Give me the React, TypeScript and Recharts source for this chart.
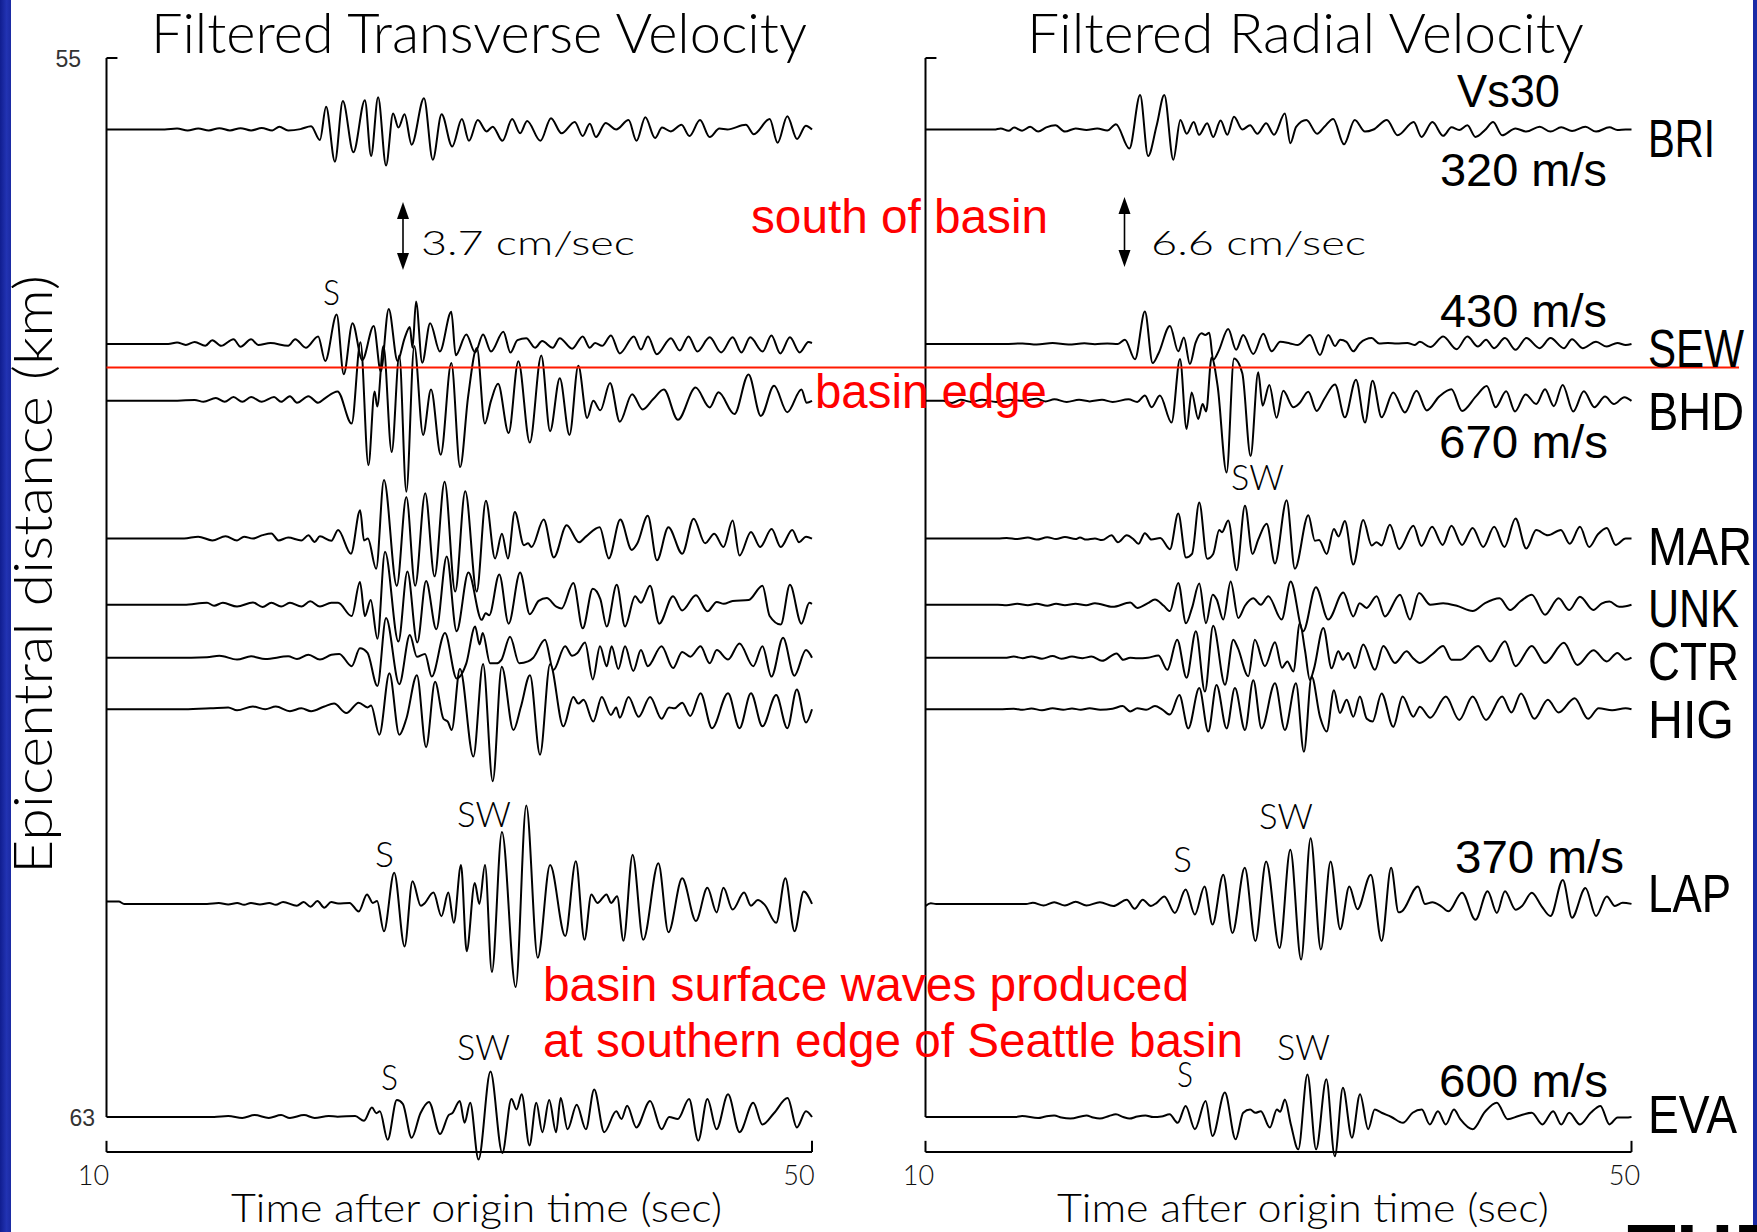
import React from 'react';
import { LineChart, Line, XAxis, YAxis, ReferenceLine } from 'recharts';

type Pt = [number, number];

// ---------- data ----------
const STATIONS = ['BRI', 'SEW', 'BHD', 'MAR', 'UNK', 'CTR', 'HIG', 'LAP', 'EVA'];
const DISTANCES = [55.54, 57.16, 57.59, 58.63, 59.13, 59.53, 59.92, 61.39, 63.0]; // km
const TIME_TICKS = [10, 50];
const DIST_TICKS = [55, 63];
const SCALE_LEFT = 3.7; // cm/sec scale bar, transverse
const SCALE_RIGHT = 6.6; // cm/sec scale bar, radial

// transverse velocity (t sec, v cm/s)
const L_BRI: Pt[] = [[10,0],[13.3,0],[14,0.05],[14.6,-0.05],[15.2,0.05],[15.8,-0.05],[16.4,0.07],[17,-0.05],[17.6,0.07],[18.2,-0.05],[18.8,0.08],[19.4,-0.05],[19.8,0.15],[20.3,-0.05],[21,0.02],[21.6,0.17],[22.1,-0.55],[22.45,1.2],[22.95,-1.7],[23.4,1.5],[24.0,-1.2],[24.65,1.55],[25.0,-1.4],[25.4,1.7],[25.85,-1.9],[26.25,0.85],[26.55,0.1],[26.9,0.8],[27.3,-0.8],[28.0,1.65],[28.5,-1.6],[29.0,0.8],[29.6,-0.9],[30.15,0.55],[30.55,-0.6],[31.05,0.5],[31.55,-0.1],[31.9,0.15],[32.45,-0.6],[33.0,0.55],[33.45,-0.2],[33.85,0.45],[34.6,-0.6],[35.2,0.6],[35.8,-0.2],[36.55,0.4],[37.0,-0.35],[37.4,0.3],[37.75,-0.4],[38.3,0.35],[38.9,0.0],[39.6,0.5],[40.05,-0.6],[40.55,0.65],[41.1,-0.45],[41.5,0.1],[42.0,-0.1],[42.6,0.25],[43.05,-0.35],[43.65,0.5],[44.2,-0.4],[44.75,0.05],[45.2,0.0],[46.25,0.25],[46.7,-0.25],[47.6,0.55],[48.05,-0.7],[48.6,0.7],[49.15,-0.5],[49.65,0.2],[50,0]];
const L_SEW: Pt[] = [[10,0],[13.5,0],[14,0.08],[14.5,-0.05],[15,0.1],[15.6,-0.1],[16,0.2],[16.5,-0.1],[17.2,0.25],[17.6,-0.15],[18.2,0.25],[18.6,-0.05],[19.3,0.05],[20.3,-0.1],[20.7,0.25],[21.3,-0.2],[22.0,0.4],[22.4,-0.9],[23.05,1.55],[23.45,-1.6],[23.95,1.1],[24.5,-0.85],[25.15,0.95],[25.55,-1.45],[26.0,1.85],[26.5,-0.9],[26.9,0.3],[27.2,0.9],[27.35,-0.2],[27.55,2.25],[27.9,-1.0],[28.35,1.1],[28.9,-0.4],[29.55,1.7],[29.8,-0.6],[30.4,0.5],[30.9,-0.45],[31.35,0.5],[31.8,-0.4],[32.5,0.65],[32.9,-0.45],[33.3,0.2],[33.8,0.3],[34.3,-0.2],[34.7,0.15],[35.3,-0.2],[35.7,0.3],[36.4,-0.25],[37.0,0.4],[37.4,-0.2],[37.7,0.05],[38.1,-0.1],[38.6,0.45],[39.1,-0.5],[39.9,0.4],[40.3,-0.3],[40.7,0.4],[41.2,-0.55],[42.0,0.3],[42.5,-0.35],[43.0,0.4],[43.5,-0.4],[44.2,0.35],[44.85,-0.45],[45.5,0.35],[46.0,-0.45],[46.5,0.35],[47.2,-0.4],[47.7,0.45],[48.2,-0.5],[48.75,0.35],[49.3,-0.45],[49.8,0.1],[50,0.05]];
const L_BHD: Pt[] = [[10,0],[13.5,0],[15.0,0.05],[15.5,-0.05],[16.2,0.15],[16.7,-0.05],[17.2,0.2],[17.7,-0.05],[18.2,0.2],[18.8,-0.05],[19.5,0.2],[19.9,-0.05],[20.4,0.25],[20.8,-0.1],[21.45,0.25],[22.0,-0.1],[22.4,0.15],[23.1,0.5],[23.9,-1.2],[24.4,3.1],[24.85,-3.4],[25.2,0.5],[25.35,-0.3],[25.7,2.9],[26.17,-2.7],[26.6,2.4],[27.0,-4.8],[27.45,2.9],[27.95,-1.8],[28.4,0.6],[28.95,-2.85],[29.55,2.0],[30.05,-3.5],[30.5,0.2],[31.0,2.8],[31.45,-1.2],[31.8,0.0],[32.2,0.9],[32.8,-1.7],[33.35,2.1],[34.0,-2.2],[34.65,2.4],[35.15,-1.6],[35.7,1.2],[36.25,-1.8],[36.75,1.85],[37.25,-0.9],[37.6,0.0],[38.0,-0.5],[38.55,0.95],[39.1,-1.1],[39.8,0.35],[40.4,-0.45],[41.0,0.1],[41.6,0.6],[42.4,-1.0],[43.4,0.7],[44.2,-0.35],[44.7,0.45],[45.6,-0.7],[46.4,1.4],[47.1,-0.8],[47.85,0.8],[48.6,-0.6],[49.4,0.6],[49.7,-0.1],[50,0]];
const L_MAR: Pt[] = [[10,0],[14.4,0],[15.2,0.1],[16.0,-0.1],[16.75,0.12],[17.4,-0.1],[17.8,0.1],[18.3,0.0],[18.85,0.18],[19.35,0.27],[19.75,-0.1],[20.3,0.05],[21.05,-0.1],[21.45,0.17],[21.8,-0.18],[22.1,0.12],[22.75,-0.12],[23.13,0.45],[23.86,-0.8],[24.38,1.5],[24.6,-0.1],[24.82,0.0],[25.29,-1.6],[25.73,3.1],[26.46,-2.5],[27.0,2.2],[27.5,-2.5],[28.07,2.4],[28.6,-2.0],[29.17,3.0],[29.77,-2.8],[30.34,2.5],[30.99,-2.8],[31.51,2.0],[32.03,-1.05],[32.42,0.25],[32.76,-1.05],[33.15,1.4],[33.67,-0.35],[33.9,-0.25],[34.1,-0.45],[34.79,1.0],[35.36,-1.0],[36.09,0.7],[36.79,-0.2],[37.18,0.1],[37.96,0.6],[38.48,-1.05],[39.13,1.0],[39.78,-0.6],[40.1,-0.25],[40.69,1.2],[41.21,-1.15],[41.86,0.6],[42.64,-0.8],[43.29,1.05],[43.94,-0.25],[44.46,0.25],[44.98,-0.45],[45.5,0.95],[45.89,-0.9],[46.54,0.35],[47.06,-0.45],[47.71,0.5],[48.23,-0.45],[48.88,0.45],[49.27,-0.2],[49.66,0.1],[50,0]];
const L_UNK: Pt[] = [[10,0],[14.4,0],[15.7,0.1],[16.1,-0.05],[16.6,0.1],[17.4,-0.1],[18.3,0.12],[18.85,-0.12],[19.35,0.1],[19.9,-0.1],[20.4,0.1],[21.05,-0.1],[21.55,0.18],[22.1,-0.1],[22.75,0.1],[23.13,0.1],[23.9,-0.6],[24.37,1.2],[24.65,-0.6],[24.98,0.25],[25.36,-1.8],[25.79,2.8],[26.55,-1.95],[27.06,1.75],[27.62,-2.0],[28.12,1.25],[28.7,-1.3],[29.29,2.55],[29.85,-1.4],[30.52,1.7],[31.27,-0.8],[31.5,-0.45],[31.7,-0.55],[32.27,1.6],[32.8,-1.0],[33.45,1.7],[34.0,-0.5],[34.5,0.2],[34.96,0.35],[35.5,-0.1],[35.8,-0.2],[36.47,1.15],[37.0,-1.25],[37.57,0.85],[38.0,0.3],[38.36,-1.15],[38.93,1.05],[39.4,-1.15],[39.97,0.45],[40.3,0.1],[40.82,1.0],[41.34,-1.0],[42.12,0.45],[42.64,-0.3],[43.42,0.5],[44.07,-0.35],[44.6,0.15],[45.0,0.05],[45.5,0.2],[46.41,0.25],[47.19,1.0],[47.6,-0.6],[48.23,-1.05],[48.75,1.05],[49.4,-1.0],[49.85,0.1],[50,0.05]];
const L_CTR: Pt[] = [[10,0],[14.8,0],[15.7,0.02],[16.4,0.1],[17.4,-0.1],[18.2,0.07],[19.0,-0.07],[20.3,0.07],[20.8,-0.07],[21.45,0.15],[22.1,-0.1],[22.75,0.15],[23.2,0.2],[23.9,-0.45],[24.37,0.5],[24.8,0.25],[25.36,-1.5],[25.85,2.1],[26.6,-1.4],[27.2,1.2],[27.6,0.05],[28.06,0.2],[28.44,-1.0],[29.19,1.3],[29.85,-1.1],[30.4,-0.3],[30.9,1.65],[31.15,0.7],[31.33,1.3],[31.75,-0.3],[32.1,-0.3],[32.4,-0.1],[32.88,1.1],[33.4,-0.3],[33.9,-0.2],[34.2,0.0],[34.86,0.95],[35.34,-0.65],[36.0,0.6],[36.4,0.1],[36.7,0.25],[37.13,0.8],[37.57,-1.15],[37.98,0.6],[38.36,-0.45],[38.64,0.6],[39.02,-0.6],[39.4,0.6],[39.87,-0.7],[40.3,0.4],[40.69,-0.45],[41.47,0.6],[42.12,-0.55],[42.64,0.3],[43.1,0.05],[43.68,0.6],[44.2,-0.3],[44.6,0.4],[45.24,-0.1],[45.89,0.75],[46.67,-0.45],[47.19,0.6],[47.7,-1.0],[48.36,1.05],[49.0,-0.95],[49.66,0.4],[50,0]];
const L_HIG: Pt[] = [[10,0],[14.4,0],[15.9,0.05],[16.9,0.1],[17.4,-0.05],[18.3,0.15],[19.0,0.0],[19.6,0.15],[20.4,-0.1],[21.05,0.05],[21.6,-0.1],[22.35,0.15],[22.9,0.3],[23.6,-0.2],[24.3,0.35],[24.8,0.1],[25.0,0.2],[25.47,-1.35],[26.04,1.9],[26.6,-1.35],[27.0,-0.5],[27.6,1.8],[28.12,-2.0],[28.63,1.45],[29.1,-0.5],[29.35,-0.65],[29.57,-1.1],[30.04,2.15],[30.8,-2.5],[31.35,2.4],[31.9,-3.8],[32.41,2.25],[33.07,-1.1],[33.5,0.15],[34.01,1.8],[34.58,-2.4],[35.15,2.4],[35.9,-0.9],[36.47,0.65],[36.75,0.3],[37.05,0.5],[37.6,-0.65],[38.08,0.65],[38.6,-0.3],[38.9,0.1],[39.1,-0.45],[39.6,0.65],[40.17,-0.4],[40.82,0.65],[41.47,-0.5],[41.9,0.1],[42.2,0.05],[42.64,0.35],[43.1,-0.35],[43.68,0.85],[44.33,-1.0],[45.24,0.85],[45.89,-1.0],[46.54,0.85],[47.19,-0.9],[47.97,0.75],[48.6,-1.0],[49.14,1.05],[49.66,-0.7],[50,0]];
const L_LAP: Pt[] = [[10,0.12],[10.7,0.12],[11.0,0],[15.7,0],[16.37,0.05],[16.9,-0.03],[17.41,0.05],[17.8,-0.05],[18.19,0.05],[18.7,-0.03],[19.23,0.05],[19.6,-0.05],[20.01,0.1],[20.79,-0.1],[21.18,0.1],[21.57,-0.15],[21.96,0.15],[22.35,-0.2],[22.74,0.1],[23.13,0.02],[23.78,0.05],[24.3,-0.4],[24.77,0.5],[25.1,0.05],[25.34,0.15],[25.73,-1.45],[26.31,1.65],[26.9,-2.25],[27.35,1.2],[27.82,-0.1],[28.0,0.0],[28.54,0.6],[28.99,-0.65],[29.38,0.6],[29.69,-1.0],[30.1,2.05],[30.42,-2.5],[30.88,1.1],[31.14,0.0],[31.46,2.05],[31.85,-3.6],[32.42,3.8],[33.2,-4.4],[33.8,5.2],[34.45,-2.85],[35.15,2.05],[36.01,-1.7],[36.61,2.25],[37.1,-1.9],[37.49,0.5],[37.83,0.05],[38.35,0.5],[38.61,0.05],[38.95,0.4],[39.31,-1.95],[39.83,2.6],[40.43,-1.9],[41.29,2.15],[41.86,-1.5],[42.64,1.35],[43.42,-0.9],[44.07,0.85],[44.59,-0.45],[44.98,0.85],[45.5,-0.3],[46.15,0.6],[46.54,-0.1],[46.93,0.2],[47.32,-0.05],[47.97,-1.0],[48.49,1.35],[49.01,-1.45],[49.53,0.65],[50,0]];
const L_EVA: Pt[] = [[10,0],[16.1,0],[16.9,0.05],[17.7,-0.05],[18.4,0.1],[19.2,-0.05],[19.9,0.1],[20.4,-0.05],[21.2,0.1],[21.8,-0.05],[22.6,0.05],[23.1,0.02],[24.1,0.05],[24.6,-0.2],[25.05,0.5],[25.3,0.2],[25.5,0.3],[25.94,-1.2],[26.46,0.9],[26.8,0.7],[27.3,-1.1],[27.8,0.2],[28.28,0.8],[28.91,-0.9],[29.4,0.1],[29.6,0.2],[30.03,0.85],[30.3,-0.3],[30.62,0.75],[31.09,-2.25],[31.77,2.4],[32.44,-1.9],[32.96,0.95],[33.25,0.4],[33.54,1.2],[33.98,-1.5],[34.37,0.75],[34.71,-0.8],[35.1,0.9],[35.49,-0.8],[35.75,1.0],[36.14,-0.65],[36.66,0.65],[37.18,-0.65],[37.65,1.45],[38.22,-0.8],[38.9,0.3],[39.2,-0.1],[39.52,0.6],[40.04,-0.55],[40.82,0.85],[41.47,-0.65],[41.9,0.0],[42.4,-0.1],[43.03,0.95],[43.55,-1.25],[44.07,0.95],[44.59,-0.65],[45.24,1.2],[45.89,-0.8],[46.67,0.75],[47.19,-0.4],[47.84,0.2],[48.62,1.0],[49.14,-0.55],[49.66,0.3],[50,0]];

// radial velocity (t sec, v cm/s)
const R_BRI: Pt[] = [[10,0],[13.9,0],[14.26,0.1],[14.71,-0.12],[15.02,0.18],[15.47,-0.12],[15.93,0.25],[16.38,-0.2],[16.84,0.2],[17.36,0.4],[17.9,-0.2],[18.51,0.1],[19.12,-0.05],[19.73,0.1],[20.3,-0.1],[20.79,0.5],[21.55,-1.8],[22.16,3.25],[22.61,-2.5],[23.1,0.4],[23.53,3.25],[24.04,-2.85],[24.44,0.9],[24.8,-0.4],[25.2,0.7],[25.5,-0.5],[25.96,0.6],[26.3,-0.7],[26.72,0.85],[27.1,-0.5],[27.48,1.2],[27.95,0.0],[28.39,0.4],[28.8,-0.4],[29.3,0.6],[29.75,-0.5],[30.36,1.5],[30.67,-1.3],[31.0,0.25],[31.58,0.9],[32.19,-0.4],[32.6,0.25],[33.1,1.0],[33.71,-1.4],[34.32,0.9],[34.9,-0.2],[35.38,0.0],[36.14,0.9],[36.75,-0.55],[37.66,0.7],[38.1,-0.7],[38.72,0.7],[39.33,-0.6],[39.8,0.2],[40.24,-0.05],[40.7,0.4],[41.16,-0.7],[41.7,-0.05],[42.16,0.7],[42.67,-0.55],[43.43,0.1],[44.04,-0.2],[44.8,0.25],[45.41,-0.2],[46.02,0.2],[46.63,-0.15],[47.39,0.25],[47.99,-0.2],[48.75,0.2],[49.2,-0.05],[49.67,0.0],[50,0]];
const R_SEW: Pt[] = [[10,0],[14.5,0],[15.5,0.05],[16.3,-0.05],[17.2,0.08],[18.1,-0.05],[19.0,0.06],[19.6,-0.03],[20.3,0.05],[20.9,0.0],[21.3,0.4],[21.87,-1.45],[22.43,3.05],[22.87,-1.8],[23.2,-0.9],[23.85,1.7],[24.32,-0.7],[24.64,0.6],[24.98,-1.9],[25.3,0.1],[25.64,1.0],[25.85,0.85],[26.08,1.05],[26.3,-1.5],[26.6,-0.7],[27.15,1.4],[27.6,-0.55],[28.0,0.85],[28.57,-0.95],[29.14,0.95],[29.61,-0.7],[30.1,0.2],[30.65,0.05],[31.1,-0.1],[31.78,0.85],[32.35,-1.05],[32.82,0.85],[33.2,-0.2],[33.5,0.4],[33.85,0.2],[34.24,-0.7],[34.6,0.05],[35.28,0.55],[35.7,0.05],[36.2,0.1],[36.7,0.05],[37.3,0.1],[37.7,-0.1],[38.01,0.2],[38.6,-0.3],[39.33,0.7],[40.09,-0.5],[40.7,0.7],[41.3,-0.25],[41.76,0.4],[42.22,-0.4],[42.83,0.55],[43.43,-0.55],[44.04,0.55],[44.8,-0.4],[45.41,0.55],[46.17,-0.4],[46.63,0.45],[47.23,-0.4],[47.99,0.2],[48.6,-0.25],[49.2,0.1],[49.67,-0.1],[50,0]];
const R_BHD: Pt[] = [[10,0],[11,0],[11.5,-0.2],[12.0,0.1],[12.6,-0.1],[13.2,0.1],[14.0,-0.1],[14.8,0.1],[15.5,0.0],[16.3,0.2],[16.8,-0.05],[17.3,0.15],[18.0,-0.1],[18.7,0.1],[19.3,-0.05],[20.0,0.1],[20.6,-0.1],[21.5,0.15],[22.0,-0.1],[22.43,0.5],[22.81,-0.6],[23.28,0.5],[23.94,-2.05],[24.42,3.95],[24.79,-2.65],[25.08,0.8],[25.45,-1.7],[25.7,-0.3],[25.9,-1.0],[26.21,4.1],[26.55,1.4],[27.06,-6.75],[27.48,4.0],[27.95,2.6],[28.42,-5.2],[28.85,2.7],[29.1,-0.45],[29.48,1.5],[29.89,-1.6],[30.27,0.95],[30.84,-0.6],[31.2,-0.2],[31.69,0.85],[32.16,-0.95],[32.6,0.2],[33.2,1.55],[33.76,-1.55],[34.39,2.0],[34.9,-2.05],[35.33,1.9],[35.84,-1.55],[36.5,0.8],[37.16,-1.1],[37.82,0.95],[38.4,-0.9],[39.1,0.4],[39.8,1.1],[40.4,-0.95],[41.2,0.45],[41.8,1.4],[42.3,-0.6],[42.9,0.9],[43.4,-1.0],[44.0,0.6],[44.6,-0.3],[45.1,1.1],[45.6,-0.5],[46.1,1.5],[46.7,-1.0],[47.3,0.9],[47.9,-0.6],[48.5,0.4],[49.0,-0.3],[49.6,0.35],[50,0]];
const R_MAR: Pt[] = [[10,0],[14.1,0],[14.6,0.05],[15.2,-0.05],[15.8,0.1],[16.3,-0.1],[16.9,0.12],[17.4,-0.05],[17.9,0.15],[18.5,-0.05],[18.75,0.1],[19.1,-0.1],[19.6,0.0],[20.0,-0.15],[20.54,0.3],[20.9,-0.35],[21.4,0.3],[21.8,-0.1],[22.06,-0.5],[22.43,0.5],[22.8,-0.1],[23.3,0.05],[23.85,-1.0],[24.32,2.35],[24.76,-1.8],[25.1,-1.45],[25.51,3.4],[25.96,-1.9],[26.3,-1.45],[26.64,0.8],[26.8,0.6],[27.15,1.7],[27.63,-3.0],[28.1,3.1],[28.53,-1.45],[28.85,-0.1],[29.33,1.4],[29.8,-2.35],[30.46,3.6],[30.93,-2.85],[31.69,2.2],[32.06,-0.2],[32.3,-0.15],[32.73,-1.45],[33.14,0.9],[33.4,0.2],[33.76,1.65],[34.24,-2.45],[34.8,1.75],[35.28,-0.65],[35.55,-0.35],[35.84,-0.65],[36.31,1.3],[36.84,-1.0],[37.64,1.2],[38.1,-0.7],[38.7,1.1],[39.3,-0.6],[39.8,1.2],[40.4,-0.6],[41.0,1.0],[41.6,-0.8],[42.22,1.1],[42.8,-0.8],[43.43,1.9],[44.04,-0.95],[44.6,0.8],[45.26,0.3],[46.0,0.8],[46.5,-0.5],[47.08,1.1],[47.6,-0.8],[48.1,0.4],[48.6,1.0],[49.1,-0.6],[49.67,0.0],[50,0]];
const R_UNK: Pt[] = [[10,0],[14.1,0],[14.6,-0.05],[15.2,0.1],[15.8,-0.05],[16.3,0.1],[16.9,-0.1],[17.4,0.1],[17.9,-0.05],[18.5,0.1],[19.1,-0.05],[19.6,0.15],[20.6,-0.2],[21.6,0.2],[22.0,-0.3],[22.6,0.15],[23.0,0.5],[23.5,-0.1],[23.85,-0.6],[24.32,2.05],[24.76,-1.75],[25.1,-0.3],[25.51,2.0],[25.89,-1.75],[26.27,0.95],[26.5,0.5],[26.87,-1.4],[27.29,2.2],[27.72,-1.25],[28.1,-0.1],[28.57,0.6],[29.0,0.0],[29.42,0.8],[30.18,-1.4],[30.69,2.2],[31.4,-2.5],[32.12,1.65],[32.82,-1.4],[33.67,1.15],[34.24,-1.1],[34.6,0.15],[34.99,-0.3],[35.56,0.8],[36.03,-1.1],[36.88,0.95],[37.45,-1.4],[37.96,1.1],[38.6,0.0],[39.33,0.15],[40.1,-0.1],[41.0,-0.6],[41.7,0.15],[42.52,0.6],[43.13,-0.5],[43.7,0.3],[44.35,0.95],[45.1,-0.95],[45.87,0.6],[46.47,-0.5],[47.08,0.75],[47.84,-0.5],[48.3,0.1],[48.75,0.3],[49.3,-0.2],[49.67,-0.15],[50,0]];
const R_CTR: Pt[] = [[10,0],[14.5,0],[15.0,0.1],[15.5,-0.05],[16.0,0.12],[16.6,-0.1],[17.2,0.15],[17.7,-0.1],[18.3,0.1],[18.9,-0.05],[19.4,0.1],[20.0,-0.3],[20.83,0.4],[21.2,-0.2],[21.6,0.0],[22.0,-0.05],[22.6,0.0],[23.2,0.2],[23.7,-1.15],[24.26,1.7],[24.79,-1.9],[25.32,2.5],[25.83,-3.2],[26.3,3.0],[26.97,-2.55],[27.44,1.7],[27.7,0.9],[28.29,-1.75],[28.66,1.7],[29.23,-0.8],[29.8,1.45],[30.2,-0.95],[30.5,-0.35],[30.84,-1.3],[31.21,3.25],[31.5,0.7],[31.78,-2.1],[32.0,-1.1],[32.54,2.8],[33.01,-1.0],[33.39,0.6],[33.65,-0.2],[33.95,0.45],[34.33,-1.0],[34.8,1.25],[35.46,-1.15],[35.94,1.1],[36.6,-0.5],[37.26,0.6],[37.6,0.0],[38.01,-0.5],[38.7,0.3],[39.33,1.1],[39.8,-0.2],[40.3,-0.2],[41.31,1.1],[42.0,-0.35],[42.83,1.55],[43.43,-0.8],[44.35,1.1],[45.1,-0.5],[46.17,1.4],[46.93,-0.7],[47.84,0.7],[48.6,-0.35],[49.2,0.45],[49.67,-0.2],[50,0]];
const R_HIG: Pt[] = [[10,0],[14.2,0],[15.0,0.05],[15.5,-0.05],[16.0,0.08],[16.6,-0.1],[17.2,0.1],[17.8,-0.05],[18.3,0.08],[18.8,-0.05],[19.3,0.1],[19.9,-0.05],[20.6,0.05],[21.17,0.3],[21.6,-0.2],[22.0,0.1],[22.5,-0.05],[23.0,0.3],[23.4,0.0],[23.85,-0.5],[24.38,1.35],[24.89,-1.8],[25.51,2.0],[26.02,-2.1],[26.49,2.3],[27.06,-1.8],[27.53,2.0],[28.1,-1.95],[28.57,2.75],[29.04,-1.8],[29.8,2.45],[30.36,-1.95],[30.99,2.45],[31.44,-4.0],[31.88,3.1],[32.35,-0.7],[32.73,-2.1],[33.14,1.8],[33.48,-0.35],[33.86,0.9],[34.24,-0.7],[34.61,1.2],[35.0,-0.9],[35.33,-1.15],[35.84,1.5],[36.5,-1.65],[37.03,1.2],[37.64,-0.7],[38.01,0.25],[38.6,-0.8],[39.48,1.2],[40.24,-1.0],[41.0,1.2],[41.76,-1.0],[42.67,1.2],[43.2,-0.3],[43.74,1.5],[44.5,-0.9],[45.26,0.9],[45.87,-0.3],[46.78,1.05],[47.54,-0.9],[48.14,0.1],[48.9,-0.1],[49.67,0.1],[50,0]];
const R_LAP: Pt[] = [[10,-0.2],[10.3,0.05],[10.6,0],[15.7,0],[16.08,0.1],[16.69,-0.15],[17.29,0.15],[17.9,-0.15],[18.51,0.2],[19.12,-0.15],[19.88,0.15],[20.64,-0.2],[21.4,0.4],[21.85,-0.45],[22.31,0.4],[22.77,-0.2],[23.1,0.1],[23.53,0.7],[24.13,-0.85],[24.74,1.35],[25.26,-1.0],[25.81,1.65],[26.26,-1.95],[26.87,2.75],[27.39,-2.75],[28.09,3.4],[28.69,-3.5],[29.3,4.0],[30.06,-4.15],[30.67,5.1],[31.28,-5.25],[31.82,6.2],[32.4,-4.3],[32.95,4.0],[33.5,-2.4],[34.01,1.65],[34.47,-0.5],[35.23,2.75],[35.84,-3.5],[36.38,3.4],[36.8,-0.8],[36.99,-0.7],[37.9,1.65],[38.3,0.0],[38.72,0.15],[39.2,-0.2],[39.63,-0.7],[40.4,1.05],[41.16,-1.5],[41.85,1.2],[42.37,-0.85],[42.83,1.2],[43.43,-0.55],[43.8,-0.2],[44.35,1.05],[44.9,-0.2],[45.41,-1.15],[46.11,2.25],[46.63,-1.3],[47.39,1.5],[47.99,-1.15],[48.6,0.7],[49.06,-0.2],[49.5,0.1],[50,0]];
const R_EVA: Pt[] = [[10,0],[15.1,0],[15.47,0.1],[16.38,-0.1],[16.8,0.05],[17.29,0.15],[17.7,-0.05],[18.21,-0.15],[19.12,0.15],[19.5,-0.05],[19.88,-0.15],[20.4,0.1],[20.79,0.25],[21.2,0.0],[21.55,-0.15],[22.0,0.05],[22.46,0.15],[22.9,0.0],[23.37,0.05],[23.83,0.25],[24.29,-0.55],[24.74,1.05],[25.26,-1.15],[25.87,1.5],[26.26,-1.8],[26.96,2.3],[27.57,-2.1],[28.0,0.4],[28.39,0.7],[28.7,0.4],[29.0,0.55],[29.51,-1.0],[29.91,0.7],[30.1,0.5],[30.36,1.65],[30.7,-0.7],[31.12,-3.05],[31.64,4.0],[32.13,-3.05],[32.71,3.55],[33.19,-3.7],[33.65,2.75],[34.16,-1.95],[34.62,2.15],[35.08,-1.15],[35.45,0.7],[35.84,0.4],[36.4,0.0],[37.05,-0.55],[37.6,0.4],[38.12,0.7],[38.57,-0.7],[39.03,0.55],[39.48,-0.7],[39.94,0.7],[40.3,-0.2],[41.0,-1.15],[41.7,0.5],[42.37,1.35],[42.98,-0.2],[43.6,0.1],[44.35,0.4],[44.95,-0.7],[45.56,0.55],[46.02,-0.7],[46.47,0.4],[47.08,-0.7],[47.69,0.4],[48.24,1.05],[48.75,-0.7],[49.21,-0.05],[49.67,-0.05],[50,0]];

const LEFT_TRACES = [L_BRI, L_SEW, L_BHD, L_MAR, L_UNK, L_CTR, L_HIG, L_LAP, L_EVA];
const RIGHT_TRACES = [R_BRI, R_SEW, R_BHD, R_MAR, R_UNK, R_CTR, R_HIG, R_LAP, R_EVA];

// ---------- layout ----------
const W = 1757;
const H = 1232;
const Y_DOMAIN: [number, number] = [54.7, 63.5];
const PLOT_TOP = 18.3;
const PLOT_BOTTOM = 1183.2;
const X_AXIS_H = 30;
const Y_AXIS_W = 60;
const BAR_KM = 0.5287; // length of scale arrow in km units
const X_AXIS_KM = 63.264;
const X_TICK_KM = 63.18;

const FONT_G = 'Lato, "DejaVu Sans", sans-serif';
const FONT_A = '"Liberation Sans", Arial, sans-serif';

type PanelProps = {
  traces: Pt[][];
  scale: number;
  plotLeft: number;
  plotRight: number;
  showYTicks: boolean;
  tickDx: number;
};

function Panel({ traces, scale, plotLeft, plotRight, showYTicks, tickDx }: PanelProps) {
  const k = BAR_KM / scale;
  const xTick = (p: any) => (
    <text x={p.x + tickDx} y={1185} textAnchor="middle" fontFamily={FONT_G} fontWeight={300} fontSize={27} fill="#111">
      {p.payload.value}
    </text>
  );
  const yTick = (p: any) =>
    showYTicks ? (
      <text x={p.payload.value === 55 ? 81 : 95} y={p.y + 9} textAnchor="end" fontFamily={FONT_A} fontSize={23} fill="#333">
        {p.payload.value}
      </text>
    ) : (
      <g />
    );
  return (
    <div style={{ position: 'absolute', left: 0, top: 0 }}>
      <LineChart
        width={W}
        height={H}
        margin={{ top: PLOT_TOP, bottom: H - PLOT_BOTTOM - X_AXIS_H, left: plotLeft - Y_AXIS_W, right: W - plotRight }}
      >
        <XAxis type="number" dataKey="t" domain={[10, 50]} ticks={TIME_TICKS} axisLine={false} tickLine={false} height={X_AXIS_H} tick={xTick} interval={0} />
        <YAxis type="number" domain={Y_DOMAIN} reversed ticks={DIST_TICKS} axisLine={false} tickLine={false} width={Y_AXIS_W} tick={yTick} interval={0} />
        <ReferenceLine segment={[{ x: 10, y: 55 }, { x: 10, y: 63 }]} stroke="#000" strokeWidth={2} />
        <ReferenceLine segment={[{ x: 10, y: 55 }, { x: 10.62, y: 55 }]} stroke="#000" strokeWidth={2} />
        <ReferenceLine segment={[{ x: 10, y: X_AXIS_KM }, { x: 50, y: X_AXIS_KM }]} stroke="#000" strokeWidth={2} />
        <ReferenceLine segment={[{ x: 10, y: X_AXIS_KM }, { x: 10, y: X_TICK_KM }]} stroke="#000" strokeWidth={2} />
        <ReferenceLine segment={[{ x: 50, y: X_AXIS_KM }, { x: 50, y: X_TICK_KM }]} stroke="#000" strokeWidth={2} />
        {traces.map((tr, i) => (
          <Line
            key={STATIONS[i]}
            data={tr.map(([t, v]) => ({ t, d: DISTANCES[i] - v * k }))}
            dataKey="d"
            type="monotone"
            dot={false}
            activeDot={false}
            stroke="#000"
            strokeWidth={2}
            isAnimationActive={false}
          />
        ))}
      </LineChart>
    </div>
  );
}

type Lbl = { text: string; x: number; y: number; len: number };

const STATION_LABELS: Lbl[] = [
  { text: 'BRI', x: 1648, y: 157, len: 67 },
  { text: 'SEW', x: 1648, y: 367, len: 96 },
  { text: 'BHD', x: 1648, y: 430, len: 96 },
  { text: 'MAR', x: 1648, y: 565, len: 104 },
  { text: 'UNK', x: 1648, y: 627, len: 91 },
  { text: 'CTR', x: 1648, y: 680, len: 91 },
  { text: 'HIG', x: 1648, y: 738, len: 86 },
  { text: 'LAP', x: 1648, y: 912, len: 83 },
  { text: 'EVA', x: 1648, y: 1133, len: 89 },
];
const VS_LABELS: Lbl[] = [
  { text: 'Vs30', x: 1457, y: 107, len: 103 },
  { text: '320 m/s', x: 1440, y: 186, len: 167 },
  { text: '430 m/s', x: 1440, y: 327, len: 167 },
  { text: '670 m/s', x: 1439, y: 458, len: 169 },
  { text: '370 m/s', x: 1455, y: 873, len: 169 },
  { text: '600 m/s', x: 1439, y: 1097, len: 169 },
];
const RED_LABELS: Lbl[] = [
  { text: 'south of basin', x: 751, y: 233, len: 297 },
  { text: 'basin edge', x: 815, y: 408, len: 232 },
  { text: 'basin surface waves produced', x: 543, y: 1001, len: 646 },
  { text: 'at southern edge of Seattle basin', x: 543, y: 1057, len: 700 },
];
const PHASE_LABELS: Lbl[] = [
  { text: 'S', x: 323, y: 305, len: 17 },
  { text: 'S', x: 375, y: 867, len: 19 },
  { text: 'SW', x: 457, y: 827, len: 54 },
  { text: 'S', x: 381, y: 1090, len: 17 },
  { text: 'SW', x: 457, y: 1060, len: 53 },
  { text: 'SW', x: 1231, y: 490, len: 53 },
  { text: 'S', x: 1173, y: 872, len: 19 },
  { text: 'SW', x: 1259, y: 829, len: 54 },
  { text: 'S', x: 1177, y: 1087, len: 16 },
  { text: 'SW', x: 1277, y: 1060, len: 53 },
];

function Arrow({ x, y1, y2 }: { x: number; y1: number; y2: number }) {
  return (
    <g>
      <line x1={x} y1={y1 + 10} x2={x} y2={y2 - 10} stroke="#000" strokeWidth={1.6} />
      <polygon points={`${x},${y1} ${x - 6},${y1 + 17} ${x + 6},${y1 + 17}`} fill="#000" />
      <polygon points={`${x},${y2} ${x - 6},${y2 - 17} ${x + 6},${y2 - 17}`} fill="#000" />
    </g>
  );
}

function Overlay() {
  return (
    <svg width={W} height={H} style={{ position: 'absolute', left: 0, top: 0, pointerEvents: 'none' }}>
      <defs>
        <linearGradient id="blueBar" x1="0" x2="1" y1="0" y2="0">
          <stop offset="0" stopColor="#101d8f" />
          <stop offset="0.6" stopColor="#2233b3" />
          <stop offset="1" stopColor="#1a2aa2" />
        </linearGradient>
      </defs>
      <rect x={0} y={0} width={11} height={H} fill="url(#blueBar)" />
      <rect x={1753} y={0} width={4} height={H} fill="#1a2aa6" />

      <text x={151} y={53} fontFamily={FONT_G} fontWeight={300} fontSize={55} fill="#000" textLength={656} lengthAdjust="spacingAndGlyphs">
        Filtered Transverse Velocity
      </text>
      <text x={1027} y={53} fontFamily={FONT_G} fontWeight={300} fontSize={55} fill="#000" textLength={557} lengthAdjust="spacingAndGlyphs">
        Filtered Radial Velocity
      </text>

      <text x={231} y={1222} fontFamily={FONT_G} fontWeight={300} fontSize={39} fill="#000" textLength={491} lengthAdjust="spacingAndGlyphs">
        Time after origin time (sec)
      </text>
      <text x={1057} y={1222} fontFamily={FONT_G} fontWeight={300} fontSize={39} fill="#000" textLength={492} lengthAdjust="spacingAndGlyphs">
        Time after origin time (sec)
      </text>
      <text
        transform="translate(52,574.5) rotate(-90)"
        textAnchor="middle"
        fontFamily={FONT_G}
        fontWeight={300}
        fontSize={54}
        fill="#000"
        textLength={599}
        lengthAdjust="spacingAndGlyphs"
      >
        Epicentral distance (km)
      </text>

      <line x1={106.5} y1={367.5} x2={1739} y2={367.5} stroke="#ff1a00" strokeWidth={2.2} />

      <Arrow x={403} y1={202} y2={270} />
      <Arrow x={1124.5} y1={197} y2={267} />
      <text x={421} y={255} fontFamily={FONT_G} fontWeight={300} fontSize={33} fill="#000" textLength={214} lengthAdjust="spacingAndGlyphs">
        3.7 cm/sec
      </text>
      <text x={1151} y={255} fontFamily={FONT_G} fontWeight={300} fontSize={33} fill="#000" textLength={215} lengthAdjust="spacingAndGlyphs">
        6.6 cm/sec
      </text>

      {PHASE_LABELS.map((l, i) => (
        <text key={'p' + i} x={l.x} y={l.y} fontFamily={FONT_G} fontWeight={300} fontSize={36} fill="#000" textLength={l.len} lengthAdjust="spacingAndGlyphs">
          {l.text}
        </text>
      ))}
      {VS_LABELS.map((l, i) => (
        <text key={'v' + i} x={l.x} y={l.y} fontFamily={FONT_A} fontSize={46} fill="#000" textLength={l.len} lengthAdjust="spacingAndGlyphs">
          {l.text}
        </text>
      ))}
      {STATION_LABELS.map((l, i) => (
        <text key={'s' + i} x={l.x} y={l.y} fontFamily={FONT_A} fontSize={53} fill="#000" textLength={l.len} lengthAdjust="spacingAndGlyphs">
          {l.text}
        </text>
      ))}
      {RED_LABELS.map((l, i) => (
        <text key={'r' + i} x={l.x} y={l.y} fontFamily={FONT_A} fontSize={48} fill="#ff0000" textLength={l.len} lengthAdjust="spacingAndGlyphs">
          {l.text}
        </text>
      ))}
      <text x={1627} y={1280} fontFamily={FONT_A} fontWeight="bold" fontSize={80} fill="#000">
        THE
      </text>
    </svg>
  );
}

export default function App() {
  return (
    <div style={{ position: 'absolute', left: 0, top: 0, width: W, height: H, overflow: 'hidden', background: '#fff' }}>
      <Panel traces={LEFT_TRACES} scale={SCALE_LEFT} plotLeft={106.5} plotRight={812} showYTicks={true} tickDx={-13} />
      <Panel traces={RIGHT_TRACES} scale={SCALE_RIGHT} plotLeft={925.5} plotRight={1631.5} showYTicks={false} tickDx={-7} />
      <Overlay />
    </div>
  );
}
